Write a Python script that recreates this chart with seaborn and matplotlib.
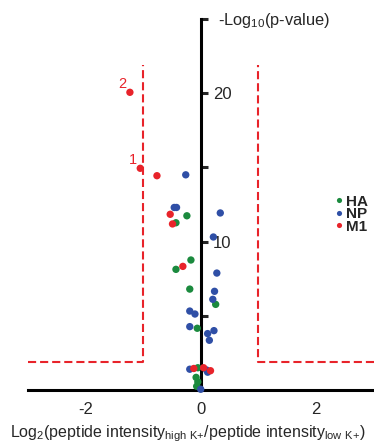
import matplotlib
matplotlib.use("Agg")
import matplotlib.pyplot as plt
import seaborn as sns
import pandas as pd

# ---- data ----
ha_x = [-0.24, -0.43, -0.17, -0.43, -0.19, 0.26, -0.06, -0.05, -0.08, -0.05, -0.07]
ha_y = [11.74, 11.27, 8.76, 8.13, 6.80, 5.77, 4.16, 1.50, 0.85, 0.55, 0.25]

np_x = [-0.26, -0.46, -0.42, 0.34, 0.22, 0.28, 0.24, 0.21, -0.19, -0.10,
        -0.19, 0.23, 0.12, 0.15, -0.19, 0.10, 0.12, 0.0]
np_y = [14.50, 12.30, 12.30, 11.93, 10.31, 7.88, 6.65, 6.11, 5.32, 5.12,
        4.27, 4.00, 3.80, 3.35, 1.40, 1.35, 1.20, 0.05]

m1_x = [-1.23, -1.05, -0.76, -0.53, -0.49, -0.31, -0.12, 0.05, 0.17]
m1_y = [20.06, 14.94, 14.44, 11.84, 11.19, 8.33, 1.45, 1.50, 1.30]

series = ["HA", "NP", "M1"]
colors = ["#1b8a3e", "#2f4fa6", "#e8232a"]

fc_cut = [-1, 1]
p_cut = 1.9
fc_top = 21.9

xticks = [-3, -2, -1, 0, 1, 2, 3]
xticklabels = ["", "-2", "", "0", "", "2", ""]
yticks = [5, 10, 15, 20, 25]
yticklabels = ["", "10", "", "20", ""]

annot_labels = ["2", "1"]
annot_x = [-1.23, -1.05]
annot_y = [20.06, 14.94]

df = pd.concat([
    pd.DataFrame({"x": ha_x, "y": ha_y, "protein": "HA"}),
    pd.DataFrame({"x": np_x, "y": np_y, "protein": "NP"}),
    pd.DataFrame({"x": m1_x, "y": m1_y, "protein": "M1"}),
], ignore_index=True)

sns.set_style("white")
plt.rcParams["font.family"] = ["Liberation Sans", "DejaVu Sans"]
plt.rcParams["mathtext.default"] = "regular"

fig = plt.figure(figsize=(3.74, 4.46), dpi=100)
ax = fig.add_axes([28 / 374, 56 / 446, 346 / 374, 371 / 446])

red = "#e8232a"
dash = (3.9, 1.9)
# threshold lines
ax.plot([-3, fc_cut[0], fc_cut[0]], [p_cut, p_cut, fc_top], color=red, lw=1.5,
        dashes=dash, zorder=1, clip_on=False)
ax.plot([3.01, fc_cut[1], fc_cut[1]], [p_cut, p_cut, fc_top], color=red, lw=1.5,
        dashes=dash, zorder=1, clip_on=False)

sns.scatterplot(data=df, x="x", y="y", hue="protein", hue_order=series,
                palette=colors, s=28, linewidth=0, ax=ax, zorder=3,
                clip_on=False, legend=True)

for t, xx, yy in zip(annot_labels, annot_x, annot_y):
    ax.text(xx - 0.06, yy + 0.1, t, color=red, fontsize=10.5, ha="right", va="bottom")

ax.set_xlim(-3, 3.01)
ax.set_ylim(0, 25)

for s in ["top", "left"]:
    ax.spines[s].set_visible(False)
ax.spines["right"].set_position(("data", 0))
ax.spines["bottom"].set_position(("data", 0))
for s in ["right", "bottom"]:
    ax.spines[s].set_linewidth(2.2)
    ax.spines[s].set_color("black")
    ax.spines[s].set_zorder(2)

ax.yaxis.tick_right()
ax.set_yticks(yticks)
ax.set_yticklabels(yticklabels)
ax.set_xticks(xticks)
ax.set_xticklabels(xticklabels)
ax.tick_params(axis="y", direction="out", length=5, width=2.2, labelsize=12, pad=4)
ax.tick_params(axis="x", direction="out", length=5, width=2.2, labelsize=12, pad=4)
ax.set_xlabel("")
ax.set_ylabel("")
ax.grid(False)

fig.text(218 / 374, 1 - 20 / 446, "-Log$_{10}$(p-value)", fontsize=11.8,
         ha="left", va="center")
fig.text(10 / 374, 1 - 434 / 446,
         "Log$_2$(peptide intensity$_{high\\ K{+}}$/peptide intensity$_{low\\ K{+}}$)",
         fontsize=11.5, ha="left", va="center")

leg = ax.legend(loc="upper left", bbox_to_anchor=(325 / 374, 1 - 187 / 446),
                bbox_transform=fig.transFigure, frameon=False,
                handletextpad=0.05, handlelength=0.8, labelspacing=-0.1,
                borderpad=0, markerscale=0.7,
                prop={"weight": "bold", "size": 11})

fig.savefig("out.png", dpi=100)
